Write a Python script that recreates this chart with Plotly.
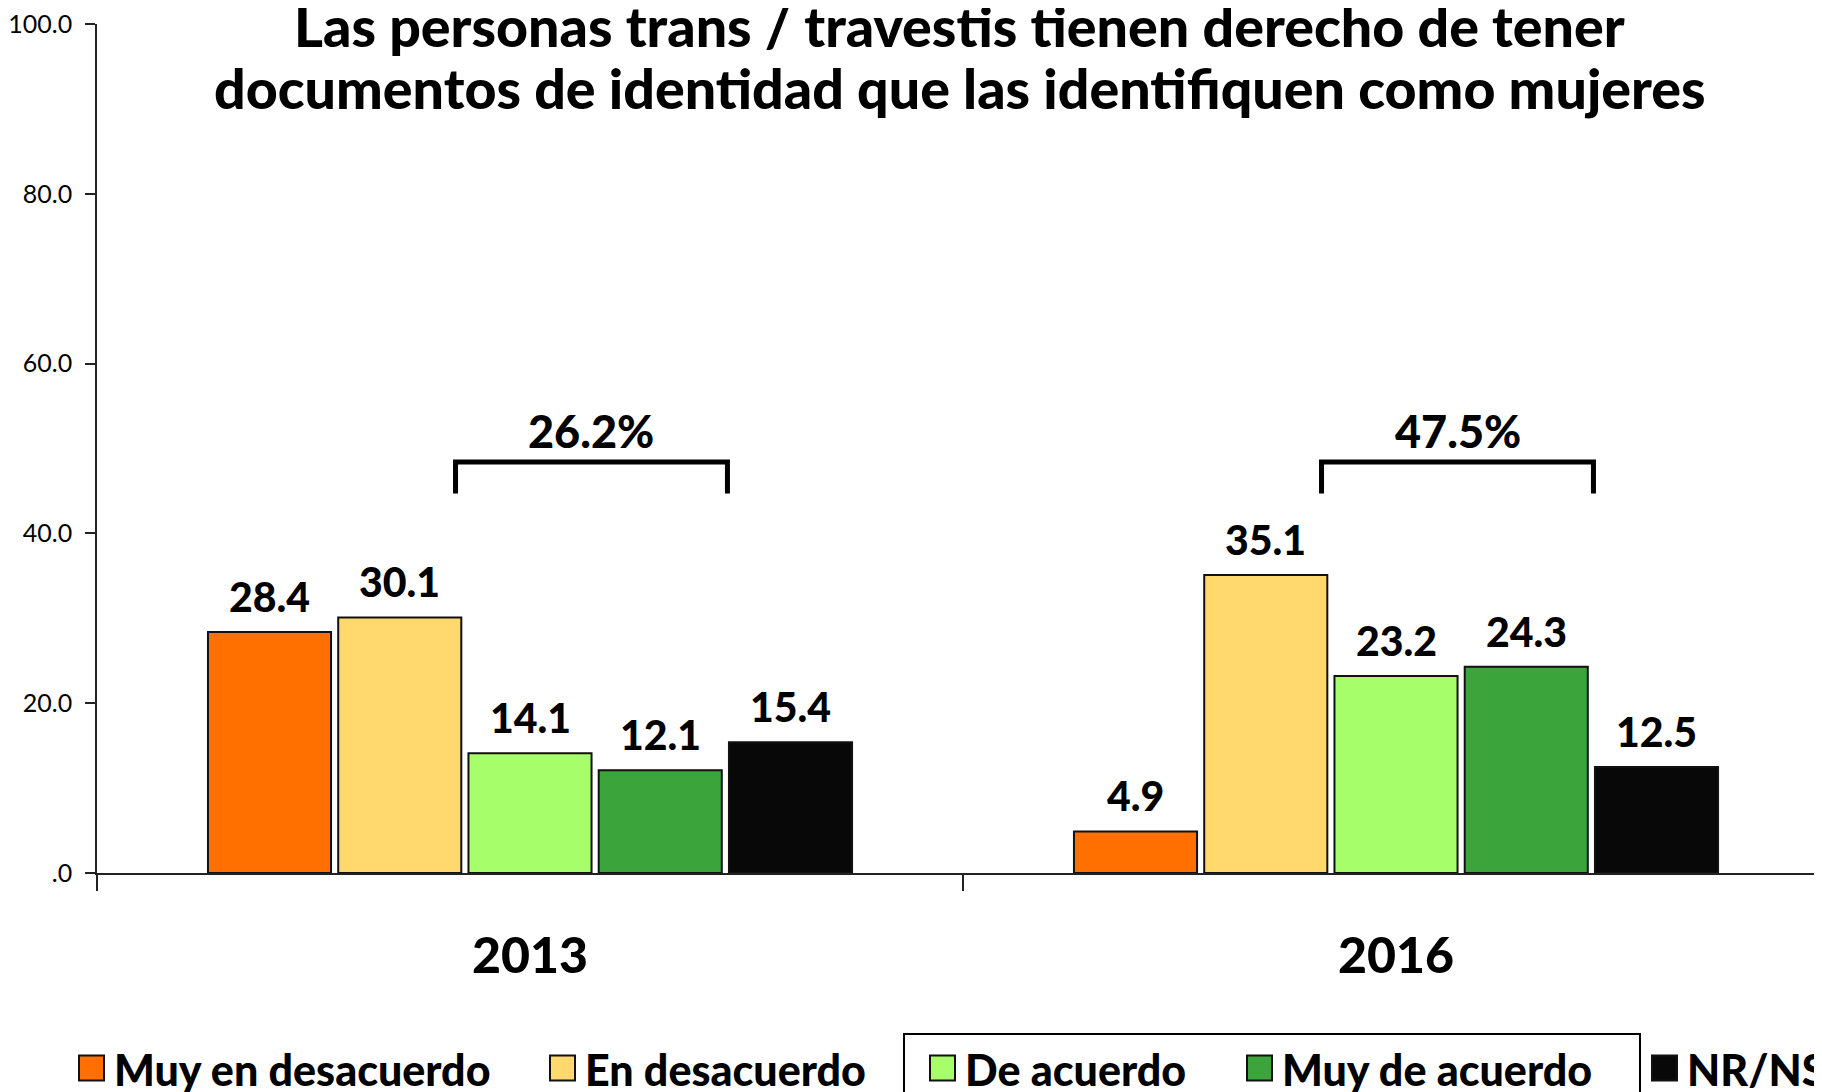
import plotly.graph_objects as go

years = ["2013", "2016"]
series_names = ["Muy en desacuerdo", "En desacuerdo", "De acuerdo", "Muy de acuerdo", "NR/NS"]
muy_en_desacuerdo = [28.4, 4.9]
en_desacuerdo = [30.1, 35.1]
de_acuerdo = [14.1, 23.2]
muy_de_acuerdo = [12.1, 24.3]
nr_ns = [15.4, 12.5]
agreement_totals = ["26.2%", "47.5%"]
colors = ["#FF7000", "#FFD86E", "#A6FF6A", "#3BA43B", "#080808"]
tick_vals = [0, 20, 40, 60, 80, 100]
tick_text = [".0", "20.0", "40.0", "60.0", "80.0", "100.0"]
title_lines = ["Las personas trans / travestis tienen derecho de tener",
               "documentos de identidad que las identifiquen como mujeres"]

FONT = "Lato"
HEAVY = 900
OFF = 8  # page body margin
SW, SH = 1822, 1092
W, H = SW - OFF, SH - OFF
PLOT_L, PLOT_T, PLOT_B = 97, 24, 873  # screen pixels
ML, MR, MT = PLOT_L - OFF, 0, PLOT_T - OFF
PW = W - ML - MR
PH = PLOT_B - PLOT_T
MB = H - MT - PH

def px2x(sx):
    return (sx - PLOT_L) / PW

def py2y(sy):
    return (PLOT_B - sy) / PH

BARGAP = 0.248
GROUPGAP = 0.055

values = [muy_en_desacuerdo, en_desacuerdo, de_acuerdo, muy_de_acuerdo, nr_ns]
n = len(values)
slot = (1 - BARGAP) / n

fig = go.Figure()
annotations = []
for i, (name, vals, col) in enumerate(zip(series_names, values, colors)):
    fig.add_trace(go.Bar(
        x=years, y=vals, name=name,
        marker=dict(color=col, line=dict(color="#111111", width=2)),
        showlegend=False,
    ))
    off = -(1 - BARGAP) / 2 + (i + 0.5) * slot
    for gi, v in enumerate(vals):
        annotations.append(dict(x=gi + off, y=v, xref="x", yref="y",
                                text=f"{v:.1f}", showarrow=False, yanchor="bottom", yshift=9,
                                font=dict(family=FONT, size=41, color="#000000", weight=HEAVY)))

shapes = []
# brackets over "De acuerdo" + "Muy de acuerdo"
bx0, bx1 = -0.086, 0.228
ytop, ybot = 48.4, 44.7
for gi, lab in enumerate(agreement_totals):
    x0, x1 = gi + bx0, gi + bx1
    path = f"M {x0},{ybot} L {x0},{ytop} L {x1},{ytop} L {x1},{ybot}"
    shapes.append(dict(type="path", xref="x", yref="y", path=path,
                       line=dict(color="#000000", width=5)))
    annotations.append(dict(x=gi + (bx0 + bx1) / 2, y=ytop, xref="x", yref="y",
                            text=lab, showarrow=False, yanchor="bottom",
                            yshift=2, font=dict(family=FONT, size=45, color="#000000", weight=HEAVY)))

# title (two lines)
for line, cy in zip(title_lines, [25, 88]):
    annotations.append(dict(x=0.5, y=py2y(cy), xref="paper", yref="paper",
                            text=line, showarrow=False,
                            xanchor="center", yanchor="middle",
                            font=dict(family=FONT, size=55.5, color="#000000", weight=HEAVY)))

# manual legend
leg_sq_x = [79, 550, 930, 1247, 1652]
leg_cy = 1068
sq = 25
for name, col, sx in zip(series_names, colors, leg_sq_x):
    shapes.append(dict(type="rect", xref="paper", yref="paper",
                       x0=px2x(sx), x1=px2x(sx + sq), y0=py2y(leg_cy + sq / 2), y1=py2y(leg_cy - sq / 2),
                       fillcolor=col, line=dict(color="#111111", width=2)))
    annotations.append(dict(x=px2x(sx + sq + 8), y=py2y(leg_cy + 1), xref="paper", yref="paper",
                            text=name, showarrow=False, xanchor="left", yanchor="middle",
                            font=dict(family=FONT, size=43, color="#000000", weight=HEAVY)))

# box around middle legend items
shapes.append(dict(type="rect", xref="paper", yref="paper",
                   x0=px2x(904), x1=px2x(1640), y0=py2y(1120), y1=py2y(1034),
                   line=dict(color="#000000", width=2), fillcolor="rgba(0,0,0,0)"))

fig.update_layout(
    width=W, height=H,
    margin=dict(l=ML, r=MR, t=MT, b=MB, pad=0, autoexpand=False),
    paper_bgcolor="white", plot_bgcolor="white",
    barmode="group", bargap=BARGAP, bargroupgap=GROUPGAP,
    showlegend=False,
    shapes=shapes, annotations=annotations,
    font=dict(family=FONT, color="#000000"),
)
fig.update_xaxes(
    type="category", range=[-0.5, 1.4919], tickson="boundaries",
    ticks="outside", ticklen=16, tickwidth=1.5, tickcolor="#222222",
    showline=True, linecolor="#222222", linewidth=1.5, showgrid=False,
    tickfont=dict(family=FONT, size=50, color="#000000", weight=HEAVY),
    ticklabelstandoff=38, zeroline=False,
)
fig.update_yaxes(
    range=[0, 100], tickvals=tick_vals, ticktext=tick_text,
    ticks="outside", ticklen=10, tickwidth=1.5, tickcolor="#222222",
    showline=True, linecolor="#222222", linewidth=1.5, showgrid=False, zeroline=False,
    tickfont=dict(family=FONT, size=25, color="#000000"), ticklabelstandoff=8,
    ticklabeloverflow="allow",
)

fig.write_html("out.html")
